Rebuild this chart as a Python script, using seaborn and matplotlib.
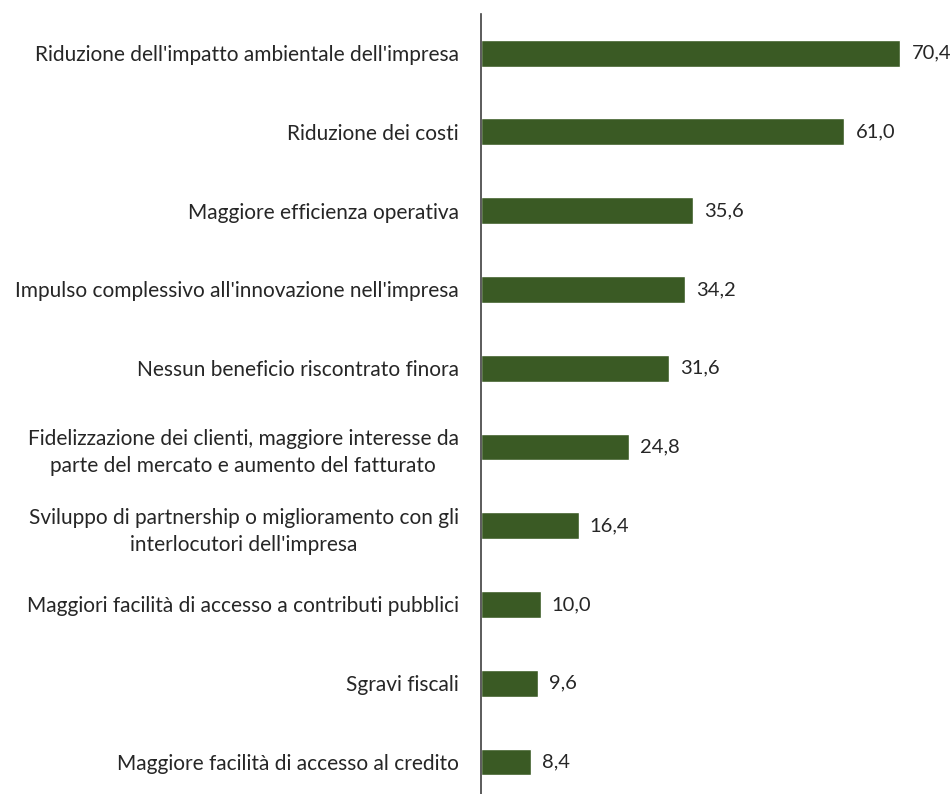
import pandas as pd
import matplotlib
matplotlib.use("Agg")
import matplotlib.pyplot as plt
import seaborn as sns

# Data
categories = [
    "Riduzione dell'impatto ambientale dell'impresa",
    "Riduzione dei costi",
    "Maggiore efficienza operativa",
    "Impulso complessivo all'innovazione nell'impresa",
    "Nessun beneficio riscontrato finora",
    "Fidelizzazione dei clienti, maggiore interesse da\nparte del mercato e aumento del fatturato",
    "Sviluppo di partnership o miglioramento con gli\ninterlocutori dell'impresa",
    "Maggiori facilità di accesso a contributi pubblici",
    "Sgravi fiscali",
    "Maggiore facilità di accesso al credito",
]
values = [70.4, 61.0, 35.6, 34.2, 31.6, 24.8, 16.4, 10.0, 9.6, 8.4]

df = pd.DataFrame({"categoria": categories, "valore": values})

sns.set_style("white")
plt.rcParams['font.family'] = ['Lato', 'DejaVu Sans']

fig = plt.figure(figsize=(9.53, 7.94), dpi=100)
ax = fig.add_axes([0.5047, -0.0093, 0.48, 0.992])

sns.barplot(data=df, x="valore", y="categoria", color="#3a5a24",
            width=0.34, saturation=1, ax=ax)

for i, v in enumerate(values):
    ax.annotate(f"{v:.1f}".replace(".", ","), xy=(v, i), xytext=(8, 0),
                textcoords="offset points", va="center", ha="left",
                fontsize=14.5, color="#262626")

ax.set_xlim(0, 76.8)
ax.set_ylim(9.5, -0.5)
ax.set_xlabel("")
ax.set_ylabel("")
ax.set_xticks([])
ax.tick_params(axis="y", length=0, pad=16, labelsize=15, labelcolor="#262626")
for lbl in ax.get_yticklabels():
    lbl.set_multialignment("center")
    lbl.set_linespacing(1.45)

for s in ["top", "right", "bottom"]:
    ax.spines[s].set_visible(False)
ax.spines["left"].set_color("#404040")
ax.spines["left"].set_linewidth(1.2)

fig.savefig("out.png", dpi=100)
